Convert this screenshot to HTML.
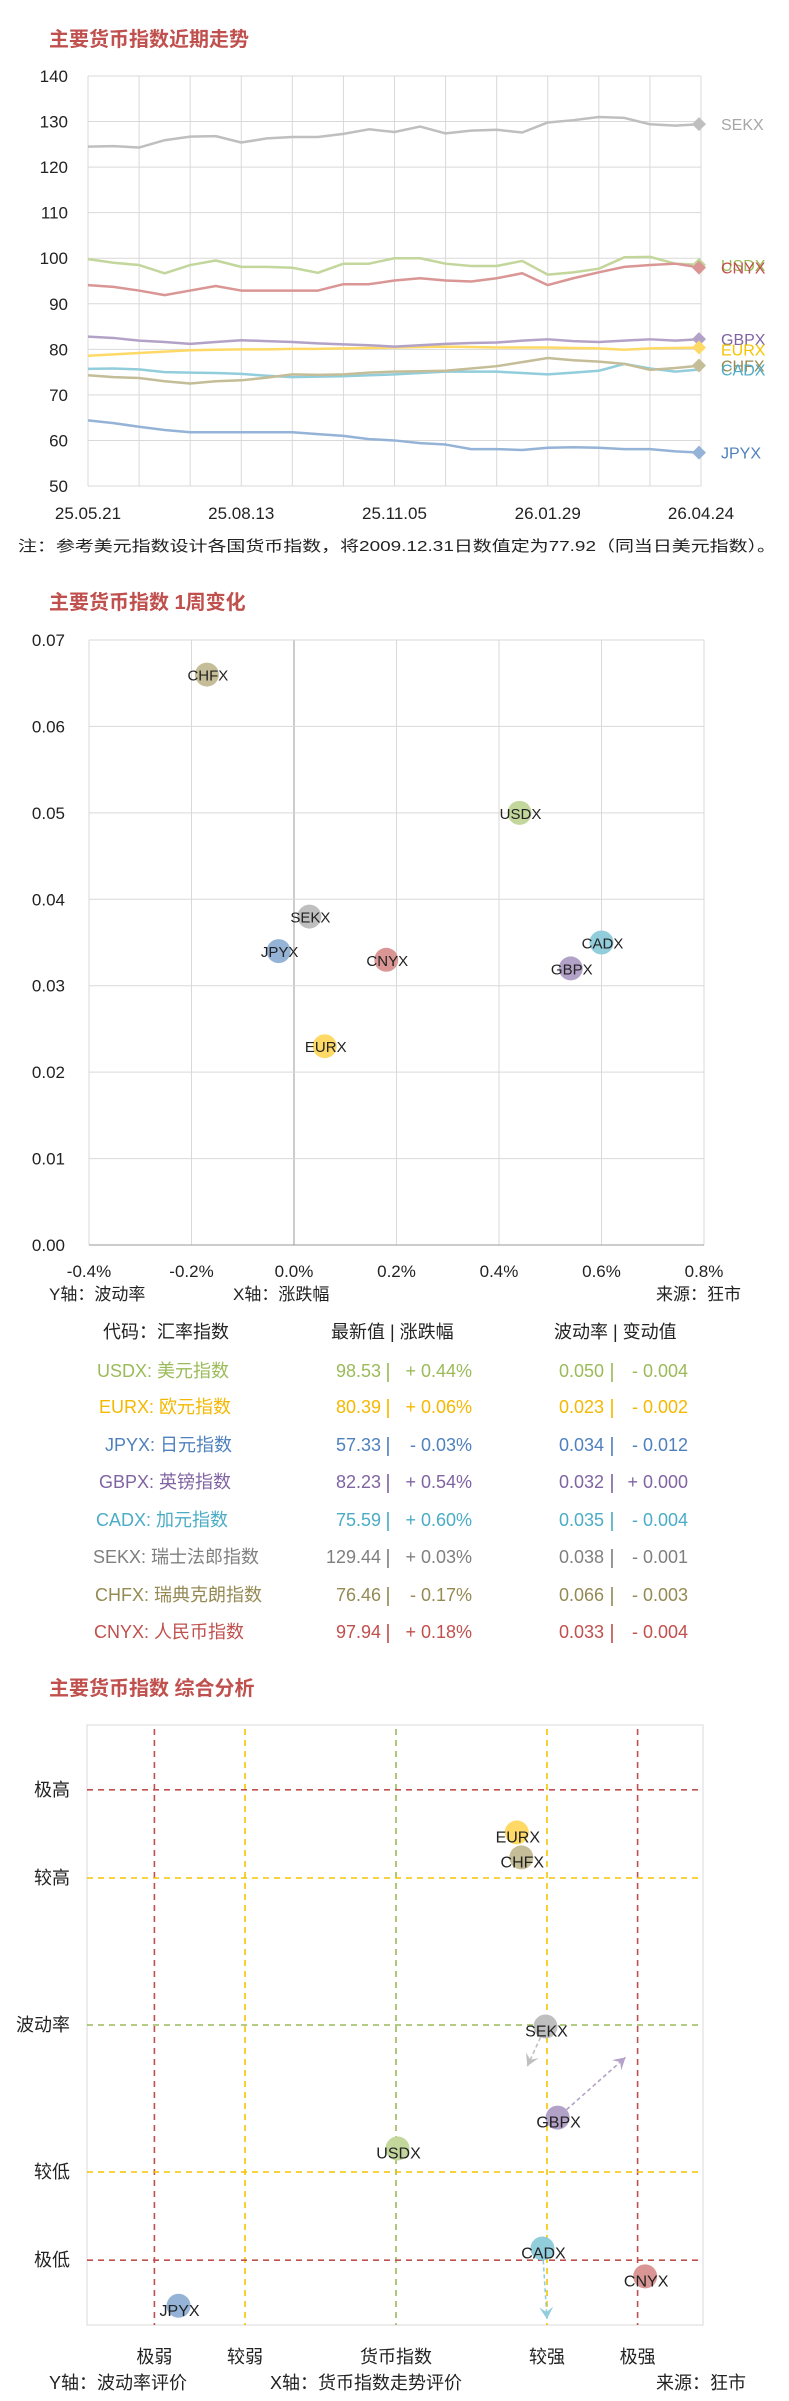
<!DOCTYPE html>
<html><head><meta charset="utf-8">
<style>
html,body{margin:0;padding:0;background:#fff;}
svg{display:block;font-family:"Liberation Sans","Noto Sans CJK SC",sans-serif;}
</style></head>
<body>
<svg id="root" width="789" height="2401" viewBox="0 0 789 2401" xmlns="http://www.w3.org/2000/svg">
<g id="c1"></g>
<g id="c2"></g>
<g id="tbl"></g>
<g id="c3"></g>
</svg>
<script>
// ---------- Chart 1 data ----------
const dateLabels = ["25.05.21","25.08.13","25.11.05","26.01.29","26.04.24"];
const yTicks1 = [50,60,70,80,90,100,110,120,130,140];
const seriesNames = ["SEKX","USDX","CNYX","GBPX","EURX","CHFX","CADX","JPYX"];
const sekx = [124.5,124.6,124.3,125.9,126.7,126.8,125.4,126.3,126.6,126.6,127.3,128.3,127.7,128.9,127.4,128.0,128.2,127.6,129.8,130.3,131.0,130.8,129.4,129.1,129.44];
const usdx = [99.8,99.0,98.5,96.7,98.5,99.5,98.1,98.1,97.9,96.8,98.8,98.8,100.0,100.0,98.8,98.3,98.3,99.4,96.4,96.9,97.7,100.2,100.3,98.8,98.53];
const cnyx = [94.1,93.7,92.9,91.9,92.9,93.9,92.9,92.9,92.9,92.9,94.3,94.3,95.1,95.6,95.1,94.9,95.6,96.7,94.1,95.6,96.9,98.1,98.5,98.8,97.94];
const gbpx = [82.8,82.5,81.9,81.6,81.2,81.6,82.0,81.8,81.6,81.3,81.1,80.9,80.6,80.9,81.2,81.4,81.5,81.9,82.2,81.8,81.6,81.9,82.2,81.9,82.23];
const eurx = [78.6,78.9,79.2,79.5,79.8,79.9,80.0,80.0,80.1,80.1,80.2,80.3,80.4,80.5,80.6,80.5,80.4,80.4,80.4,80.3,80.2,79.9,80.2,80.3,80.39];
const chfx = [74.3,73.9,73.7,73.0,72.5,73.0,73.2,73.8,74.5,74.4,74.5,74.9,75.1,75.2,75.3,75.8,76.3,77.2,78.1,77.6,77.3,76.8,75.5,75.9,76.46];
const cadx = [75.7,75.8,75.6,75.0,74.9,74.8,74.6,74.2,73.9,74.0,74.1,74.3,74.5,74.8,75.1,75.1,75.1,74.8,74.5,74.9,75.3,76.8,75.8,75.1,75.59];
const jpyx = [64.4,63.8,63.0,62.3,61.8,61.8,61.8,61.8,61.8,61.4,61.0,60.3,60.0,59.4,59.1,58.1,58.1,57.9,58.4,58.5,58.4,58.1,58.1,57.6,57.33];

// ---------- Chart 2 data ----------
const scatterNames = ["CHFX","USDX","SEKX","JPYX","CNYX","CADX","GBPX","EURX"];
const scatterChange = [-0.17,0.44,0.03,-0.03,0.18,0.60,0.54,0.06];
const scatterVol = [0.066,0.050,0.038,0.034,0.033,0.035,0.032,0.023];
const xTicks2 = [-0.4,-0.2,0.0,0.2,0.4,0.6,0.8];
const yTicks2 = [0,0.01,0.02,0.03,0.04,0.05,0.06,0.07];

// ---------- Table data ----------
const tblCodes = ["USDX: 美元指数","EURX: 欧元指数","JPYX: 日元指数","GBPX: 英镑指数","CADX: 加元指数","SEKX: 瑞士法郎指数","CHFX: 瑞典克朗指数","CNYX: 人民币指数"];
const tblLatest = ["98.53","80.39","57.33","82.23","75.59","129.44","76.46","97.94"];
const tblPct = ["+ 0.44%","+ 0.06%","- 0.03%","+ 0.54%","+ 0.60%","+ 0.03%","- 0.17%","+ 0.18%"];
const tblVol = ["0.050","0.023","0.034","0.032","0.035","0.038","0.066","0.033"];
const tblChg = ["- 0.004","- 0.002","- 0.012","+ 0.000","- 0.004","- 0.001","- 0.003","- 0.004"];

// ---------- Chart 3 data ----------
const anaNames = ["EURX","CHFX","SEKX","GBPX","USDX","CADX","CNYX","JPYX"];
const anaTrend = [0.80,0.83,0.99,1.07,0.01,0.97,1.65,-1.44];
const anaVol = [1.31,1.14,-0.01,-0.63,-0.84,-1.52,-1.71,-1.91];
const arrowNames = ["SEKX","GBPX","CADX"];
const arrowTrend = [0.87,1.52,1.0];
const arrowVol = [-0.28,-0.22,-2.0];
const xLevels = ["极弱","较弱","货币指数","较强","极强"];
const xLevelVals = [-1.6,-1,0,1,1.6];
const yLevels = ["极高","较高","波动率","较低","极低"];
const yLevelVals = [1.6,1,0,-1,-1.6];

const NS="http://www.w3.org/2000/svg";
const lineCol={SEKX:"#bfbfbf",USDX:"#c3d69b",CNYX:"#d99694",GBPX:"#b3a2c7",EURX:"#ffd966",CHFX:"#c4bd97",CADX:"#92cddc",JPYX:"#95b3d7"};
const textCol={SEKX:"#a6a6a6",USDX:"#9bbb59",CNYX:"#c0504d",GBPX:"#8064a2",EURX:"#f5c400",CHFX:"#948a54",CADX:"#4bacc6",JPYX:"#4f81bd"};
const tblCol=["#9bbb59","#f5b800","#4f81bd","#8064a2","#4bacc6","#7f7f7f","#948a54","#c0504d"];
function mk(parent,tag,attrs,text){const e=document.createElementNS(NS,tag);for(const k in attrs)e.setAttribute(k,attrs[k]);if(text!==undefined)e.textContent=text;parent.appendChild(e);return e;}

// ===== Chart 1 =====
(function(){
const g=document.getElementById('c1');
const L=88,R=701,T=76,B=486;
const x=i=>L+i*(R-L)/24, y=v=>B-(v-50)/90*(B-T);
let t=mk(g,'text',{x:49,y:46,fill:'#c0504d','font-size':20,'font-weight':'bold'},'主要货币指数近期走势');


for(let k=0;k<=12;k++){const xx=L+k*(R-L)/12;const l=mk(g,'line',{x1:xx,x2:xx,y1:T,y2:B,stroke:'#d9d9d9','stroke-width':1});

}
yTicks1.forEach(v=>{const l=mk(g,'line',{x1:L,x2:R,y1:y(v),y2:y(v),stroke:'#d9d9d9','stroke-width':1});


const tt=mk(g,'text',{x:68,y:y(v)+6,'text-anchor':'end','font-size':17,fill:'#222'},String(v));

});
dateLabels.forEach((d,k)=>{const tt=mk(g,'text',{x:L+k*3*(R-L)/12,y:519,'text-anchor':'middle','font-size':17,fill:'#222'},d);

});
const data={SEKX:sekx,USDX:usdx,CNYX:cnyx,GBPX:gbpx,EURX:eurx,CHFX:chfx,CADX:cadx,JPYX:jpyx};
const order=["SEKX","EURX","CADX","CHFX","JPYX","GBPX","USDX","CNYX"];
order.forEach(n=>{const arr=data[n];const p=mk(g,'polyline',{points:arr.map((v,i)=>x(i)+','+y(v)).join(' '),fill:'none',stroke:lineCol[n],'stroke-width':2.5,'stroke-linejoin':'round'});

});
const lab=[["SEKX",0],["USDX",0],["CNYX",0],["GBPX",0],["EURX",2],["CHFX",0],["CADX",0],["JPYX",0]];
lab.forEach(([n,off])=>{const arr=data[n];const v=arr[arr.length-1];const yy=y(v);
if(n!=="CADX"){const d=mk(g,'path',{d:`M699 ${yy-7} L706 ${yy} L699 ${yy+7} L692 ${yy} Z`,fill:lineCol[n]});

}
const tt=mk(g,'text',{x:721,y:yy+6+off,'font-size':16,fill:textCol[n]},n);

});
const note=mk(g,'text',{x:18,y:551,'font-size':15,fill:'#222',textLength:758,lengthAdjust:'spacingAndGlyphs'},'注：参考美元指数设计各国货币指数，将2009.12.31日数值定为77.92（同当日美元指数）。');


})();

// ===== Chart 2 =====
(function(){
const g=document.getElementById('c2');
const L=89,R=704,T=640,B=1245;
const x=v=>L+(v+0.4)/1.2*(R-L), y=v=>B-v/0.07*(B-T);
const t=mk(g,'text',{x:49,y:609,fill:'#c0504d','font-size':20,'font-weight':'bold'},'主要货币指数 1周变化');


xTicks2.forEach(v=>{const l=mk(g,'line',{x1:x(v),x2:x(v),y1:T,y2:B,stroke:Math.abs(v)<1e-9?'#999':'#d9d9d9','stroke-width':1});


const tt=mk(g,'text',{x:x(v),y:1277,'text-anchor':'middle','font-size':17,fill:'#222'},v.toFixed(1)+'%');

});
yTicks2.forEach(v=>{const l=mk(g,'line',{x1:L,x2:R,y1:y(v),y2:y(v),stroke:v===0?'#999':'#d9d9d9','stroke-width':1});


const tt=mk(g,'text',{x:65,y:y(v)+6,'text-anchor':'end','font-size':17,fill:'#222'},v.toFixed(2));

});
scatterNames.forEach((n,i)=>{const cx=x(scatterChange[i]),cy=y(scatterVol[i]);
const c=mk(g,'circle',{cx:cx,cy:cy,r:12,fill:lineCol[n]});


const tt=mk(g,'text',{x:cx+1,y:cy+6,'text-anchor':'middle','font-size':15,fill:'#222'},n);

});
[["Y轴：波动率",49,'y-axis-note'],["X轴：涨跌幅",233,'x-axis-note'],["来源：狂市",656,'source-note']].forEach(([s,xx,nm])=>{
const tt=mk(g,'text',{x:xx,y:1300,'font-size':17,fill:'#222'},s);

});
})();

// ===== Table =====
(function(){
const g=document.getElementById('tbl');
const rowsY=[1371,1407,1445,1482,1520,1557,1595,1632];
const codeX=[97,99,105,99,96,93,95,94];
[["代码：汇率指数",103],["最新值 | 涨跌幅",331],["波动率 | 变动值",554]].forEach(([s,xx])=>{
const tt=mk(g,'text',{x:xx,y:1338,'font-size':18,fill:'#222'},s);

});
tblCodes.forEach((s,i)=>{const yy=rowsY[i]+6,c=tblCol[i];
let tt=mk(g,'text',{x:codeX[i],y:yy,'font-size':18,fill:c},s);


tt=mk(g,'text',{x:381,y:yy,'text-anchor':'end','font-size':18,fill:c},tblLatest[i]);


tt=mk(g,'text',{x:388,y:yy+1,'text-anchor':'middle','font-size':20,fill:c},'|');


tt=mk(g,'text',{x:472,y:yy,'text-anchor':'end','font-size':18,fill:c},tblPct[i]);


tt=mk(g,'text',{x:604,y:yy,'text-anchor':'end','font-size':18,fill:c},tblVol[i]);


tt=mk(g,'text',{x:612,y:yy+1,'text-anchor':'middle','font-size':20,fill:c},'|');


tt=mk(g,'text',{x:688,y:yy,'text-anchor':'end','font-size':18,fill:c},tblChg[i]);

});
})();

// ===== Chart 3 =====
(function(){
const g=document.getElementById('c3');
const L=87,R=703,T=1725,B=2325;
const x=s=>396+s*151, y=s=>2025-s*147;
const t=mk(g,'text',{x:49,y:1695,fill:'#c0504d','font-size':20,'font-weight':'bold'},'主要货币指数 综合分析');


const box=mk(g,'rect',{x:L,y:T,width:R-L,height:B-T,fill:'none',stroke:'#d9d9d9','stroke-width':1});


const lc=v=>Math.abs(v)>1.2?'#c0504d':(v===0?'#9bbb59':'#f5c400');
xLevels.forEach((s,i)=>{const xx=x(xLevelVals[i]);
const l=mk(g,'line',{x1:xx,x2:xx,y1:T+4,y2:B,stroke:lc(xLevelVals[i]),'stroke-width':1.6,'stroke-dasharray':'6,5'});


const tt=mk(g,'text',{x:xx,y:2363,'text-anchor':'middle','font-size':18,fill:'#222'},s);

});
yLevels.forEach((s,i)=>{const yy=y(yLevelVals[i]);
const l=mk(g,'line',{x1:L,x2:R-4,y1:yy,y2:yy,stroke:lc(yLevelVals[i]),'stroke-width':1.6,'stroke-dasharray':'6,5'});


const tt=mk(g,'text',{x:70,y:yy+6,'text-anchor':'end','font-size':18,fill:'#222'},s);

});
const defs=mk(g,'defs',{});
arrowNames.forEach((n,i)=>{const j=anaNames.indexOf(n);
const x1=x(anaTrend[j]),y1=y(anaVol[j]),x2=x(arrowTrend[i]),y2=y(arrowVol[i]);
const ang=Math.atan2(y2-y1,x2-x1),len=Math.hypot(x2-x1,y2-y1);
const sx=x1+Math.cos(ang)*12,sy=y1+Math.sin(ang)*12;
const a=mk(g,'line',{x1:sx,y1:sy,x2:x2,y2:y2,stroke:lineCol[n],'stroke-width':1.6,'stroke-dasharray':'4,3'});


const hl=12,hw=7,bx=x2-Math.cos(ang)*hl,by=y2-Math.sin(ang)*hl,px=-Math.sin(ang)*hw,py=Math.cos(ang)*hw;
const h=mk(g,'path',{d:`M${x2} ${y2} L${bx+px} ${by+py} L${x2-Math.cos(ang)*7} ${y2-Math.sin(ang)*7} L${bx-px} ${by-py} Z`,fill:lineCol[n]});

});
anaNames.forEach((n,i)=>{const cx=x(anaTrend[i]),cy=y(anaVol[i]);
const c=mk(g,'circle',{cx:cx,cy:cy,r:12,fill:lineCol[n]});


const tt=mk(g,'text',{x:cx+1,y:cy+10,'text-anchor':'middle','font-size':16,fill:'#222'},n);

});
[["Y轴：波动率评价",49,'y-axis-note'],["X轴：货币指数走势评价",270,'x-axis-note'],["来源：狂市",656,'source-note']].forEach(([s,xx,nm])=>{
const tt=mk(g,'text',{x:xx,y:2389,'font-size':18,fill:'#222'},s);

});
})();
</script>
</body></html>
